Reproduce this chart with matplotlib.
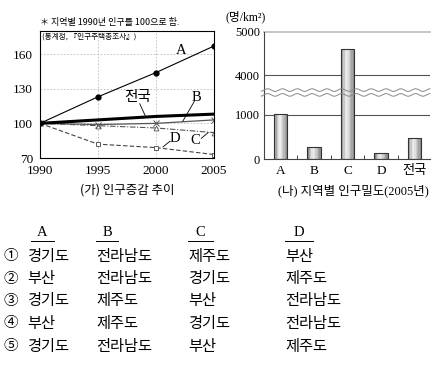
import matplotlib
matplotlib.use('Agg')
import matplotlib.pyplot as plt
import numpy as np
from matplotlib.lines import Line2D

# data
years = [1990, 1995, 2000, 2005]
idx_a = [100, 123, 144, 167]
idx_b = [100, 99, 100, 103]
idx_c = [100, 98, 96, 92]
idx_d = [100, 82, 79, 73]
idx_nat = [100, 103, 106, 108]

regions = ['A', 'B', 'C', 'D', '전국']
density = [1020, 280, 4600, 140, 480]

row_marks = ['①', '②', '③', '④', '⑤']
col_a = ['경기도', '부산', '경기도', '부산', '경기도']
col_b = ['전라남도', '전라남도', '제주도', '제주도', '전라남도']
col_c = ['제주도', '경기도', '부산', '경기도', '부산']
col_d = ['부산', '제주도', '전라남도', '전라남도', '제주도']

SERIF = ['Liberation Serif', 'Noto Sans CJK KR', 'DejaVu Sans']
KR = ['Noto Sans CJK KR', 'DejaVu Sans']
plt.rcParams['font.family'] = SERIF

W, H = 448, 372
fig = plt.figure(figsize=(W / 100, H / 100), dpi=100)


def fx(x):
    return x / W


def fy(y):
    return 1 - y / H


# ---- (가) line chart ----
ax = fig.add_axes([fx(40), fy(158), fx(214) - fx(40), fy(31) - fy(158)])
ax.set_xlim(1990, 2005)
ax.set_ylim(70, 180)
ax.set_xticks(years)
ax.set_yticks([70, 100, 130, 160])
ax.tick_params(length=0, labelsize=9.5, pad=5)
ax.grid(True, color='#bbbbbb', linestyle=(0, (2, 2)), linewidth=0.6)
for s in ax.spines.values():
    s.set_linewidth(0.8)

ax.plot(years, idx_d, color='#444444', lw=0.8, ls=(0, (4, 2)), marker='s',
        ms=3.5, mfc='white', mec='#444444', mew=0.6)
ax.plot(years, idx_c, color='#555555', lw=0.8, ls=(0, (5, 1.5, 1, 1.5)), marker='^',
        ms=3.5, mfc='white', mec='#555555', mew=0.6)
ax.plot(years, idx_b, color='#555555', lw=0.9, marker='x', ms=4, mew=0.7)
ax.plot(years, idx_nat, color='black', lw=2.2)
ax.plot(years, idx_a, color='black', lw=0.8, marker='o', ms=3.5)

lab = dict(fontsize=10.5, ha='center', va='center')
ax.text(2002.2, 163.5, 'A', family=SERIF, **lab)
ax.text(2003.5, 122.5, 'B', family=SERIF, **lab)
ax.text(2003.4, 85.5, 'C', family=SERIF, **lab)
ax.text(2001.6, 86.5, 'D', family=SERIF, **lab)
ax.text(1998.4, 122.5, '전국', family=KR, **lab)
ax.plot([1998.6, 1999.1], [117, 106], color='black', lw=0.6)
ax.plot([2003.3, 2002.3], [119, 101.7], color='black', lw=0.6)
ax.plot([2001.2, 2000.6], [84.5, 79.6], color='black', lw=0.6)
ax.plot([2003.9, 2004.5], [87, 92], color='black', lw=0.6)
ax.text(1990.2, 175, '(통계청, 『인구주택총조사』)', fontsize=5.5, family=KR, va='center')

fig.text(fx(40), fy(22), '＊ 지역별 1990년 인구를 100으로 함.', fontsize=6.5,
         family=KR, va='center')
fig.text(fx(127), fy(190), '(가) 인구증감 추이', fontsize=9, family=KR,
         ha='center', va='center')

# ---- (나) bar chart with broken axis ----
left, right = fx(264), fx(430)
y_break = 92.5
axb = fig.add_axes([left, fy(159.3), right - left, fy(y_break) - fy(159.3)])
axt = fig.add_axes([left, fy(y_break), right - left, fy(31.7) - fy(y_break)])

x = np.arange(len(regions))
bw = 0.4
shades = ['#8a8a8a', '#a8a8a8', '#c8c8c8', '#e2e2e2', '#ededed', '#e0e0e0',
          '#cccccc', '#b8b8b8', '#a4a4a4', '#909090']
ns = len(shades)
for a in (axb, axt):
    for k, c in enumerate(shades):
        a.bar(x - bw / 2 + (k + 0.5) * bw / ns, density, width=bw / ns * 1.02,
              color=c, linewidth=0, zorder=2)
    a.bar(x, density, width=bw, color='none', edgecolor='#333333',
          linewidth=0.8, zorder=3)
    a.set_xlim(-0.5, 4.47)
    a.set_facecolor('none')
    for s in ['top', 'right']:
        a.spines[s].set_visible(False)
    a.spines['left'].set_linewidth(0.8)
    a.spines['left'].set_color('#444444')
    a.tick_params(axis='y', length=0, labelsize=9, pad=3)

axb.set_ylim(0, 1500)
axt.set_ylim(3600, 5000)
axt.spines['bottom'].set_visible(False)
axt.set_xticks([])
axb.spines['bottom'].set_linewidth(0.8)
axb.spines['bottom'].set_color('#444444')
axb.set_yticks([0, 1000])
axt.set_yticks([4000, 5000])
axb.axhline(1000, color='#555555', lw=0.8, zorder=1)
axt.axhline(4000, color='#555555', lw=0.8, zorder=1)
axt.axhline(5000, color='#bbbbbb', lw=1.2, zorder=1, clip_on=False)
axb.set_xticks(x)
axb.set_xticklabels(regions, fontsize=9.5)
axb.tick_params(axis='x', length=0, pad=4)
axb.set_xticks(x[:-1] + 0.5, minor=True)
axb.tick_params(axis='x', which='minor', direction='in', length=3, width=0.7,
                color='#444444')

# wavy break
xs = np.linspace(left - 0.006, right, 300)
wave = 0.0035 * np.sin((xs - left) * 2 * np.pi / 0.033)
yb = fy(y_break)
for off in (-0.0065, 0.0065):
    fig.add_artist(Line2D(xs, yb + off + wave, transform=fig.transFigure,
                          color='#888888', lw=0.7, zorder=6))

fig.text(fx(225), fy(17), '(명/km²)', fontsize=8.5, family=SERIF, va='center')
fig.text(fx(353), fy(191), '(나) 지역별 인구밀도(2005년)', fontsize=9, family=SERIF,
         ha='center', va='center')

# ---- answer table ----
col_x = [27, 96, 188, 285]
heads = ['A', 'B', 'C', 'D']
ul = [(31, 54), (96, 118), (188, 213), (285, 313)]
for h, (u0, u1) in zip(heads, ul):
    fig.text(fx((u0 + u1) / 2), fy(233), h, fontsize=10.5, family=SERIF,
             ha='center', va='center')
    fig.add_artist(Line2D([fx(u0), fx(u1)], [fy(241), fy(241)],
                          transform=fig.transFigure, color='black', lw=0.7))

for i in range(5):
    yy = fy(256 + i * 22.5)
    fig.text(fx(4), yy, row_marks[i], fontsize=10.5, family=KR, va='center')
    for cx, col in zip(col_x, [col_a, col_b, col_c, col_d]):
        fig.text(fx(cx), yy, col[i], fontsize=11, family=KR, va='center')

fig.savefig('out.png', dpi=100, facecolor='white')
